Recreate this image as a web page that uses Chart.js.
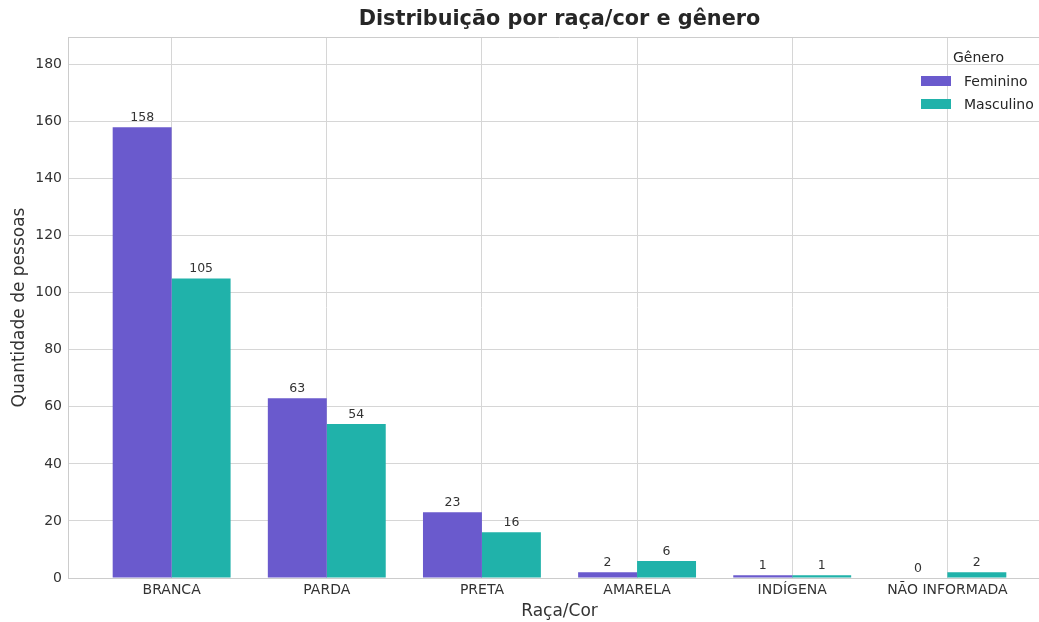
<!DOCTYPE html>
<html>
<head>
<meta charset="utf-8">
<script src="https://cdn.jsdelivr.net/npm/chart.js@4.4.1/dist/chart.umd.min.js"></script>
<style>
  html, body { margin: 0; padding: 0; background: #fff; overflow: hidden; }
  #wrap { position: relative; width: 1051px; height: 622px; }
  #legend { position: absolute; left: 921px; top: 47px; font-family: "DejaVu Sans", sans-serif; font-size: 14px; color: #262626; }
  #legend .ttl { margin-left: 32px; height: 22px; line-height: 20px; }
  #legend .row { display: flex; align-items: center; height: 23px; }
  #legend .sw { width: 30px; height: 10px; margin-right: 13px; }
</style>
</head>
<body>
<div id="wrap">
  <canvas id="chart" width="1051" height="622"></canvas>
  <div id="legend"></div>
</div>
<script>
const categories = ['BRANCA', 'PARDA', 'PRETA', 'AMARELA', 'INDÍGENA', 'NÃO INFORMADA'];
const feminino = [158, 63, 23, 2, 1, 0];
const masculino = [105, 54, 16, 6, 1, 2];
const yTicks = [0, 20, 40, 60, 80, 100, 120, 140, 160, 180];
const seriesNames = ['Feminino', 'Masculino'];
const seriesColors = ['#6A5ACD', '#20B2AA'];
const chartTitle = 'Distribuição por raça/cor e gênero';

const font = 'DejaVu Sans';
const toPoints = arr => arr.map((v, i) => ({ x: i, y: v }));

// top spine + title centred over the plot area (like matplotlib)
const frame = {
    id: 'frame',
    beforeDatasetsDraw(chart) {
        const a = chart.chartArea, ctx = chart.ctx;
        ctx.save();
        ctx.strokeStyle = '#cccccc';
        ctx.lineWidth = 1;
        ctx.beginPath();
        ctx.moveTo(a.left, a.top + 0.5);
        ctx.lineTo(a.right, a.top + 0.5);
        ctx.stroke();
        ctx.restore();
    },
    afterDraw(chart) {
        const a = chart.chartArea, ctx = chart.ctx;
        ctx.save();
        ctx.font = 'bold 20.8px "' + font + '"';
        ctx.fillStyle = '#262626';
        ctx.textAlign = 'center';
        ctx.textBaseline = 'middle';
        ctx.fillText(chartTitle, (a.left + a.right) / 2, a.top - 17);
        ctx.restore();
    }
};

const valueLabels = {
    id: 'valueLabels',
    afterDatasetsDraw(chart) {
        const ctx = chart.ctx;
        ctx.save();
        ctx.font = '12.5px "' + font + '"';
        ctx.fillStyle = '#333333';
        ctx.textAlign = 'center';
        ctx.textBaseline = 'bottom';
        chart.data.datasets.forEach((ds, di) => {
            chart.getDatasetMeta(di).data.forEach((bar, i) => {
                ctx.fillText(ds.data[i].y, bar.x, bar.y - 3);
            });
        });
        ctx.restore();
    }
};

const ctx = document.querySelector('#chart').getContext('2d');
let chart = new Chart(ctx, {
    type: 'bar',
    data: {
        datasets: [{
            label: seriesNames[0],
            data: toPoints(feminino),
            backgroundColor: seriesColors[0]
        }, {
            label: seriesNames[1],
            data: toPoints(masculino),
            backgroundColor: seriesColors[1]
        }]
    },
    options: {
        responsive: false,
        animation: false,
        layout: { padding: { top: 37, left: 0, right: 0, bottom: 0 } },
        datasets: { bar: { categoryPercentage: 0.76, barPercentage: 1.0 } },
        plugins: {
            legend: { display: false },
            tooltip: { enabled: false },
            title: { display: false }
        },
        scales: {
            x: {
                type: 'linear',
                offset: false,
                min: -0.668,
                max: 5.668,
                afterBuildTicks: s => { s.ticks = categories.map((c, i) => ({ value: i })); },
                afterFit: s => { s.height = 44; },
                ticks: {
                    callback: v => categories[v],
                    color: '#333333',
                    font: { family: font, size: 14 },
                    padding: 4,
                    maxRotation: 0,
                    autoSkip: false
                },
                grid: { color: '#d6d6d6', drawTicks: false, offset: false },
                border: { color: '#cccccc' },
                title: {
                    display: true,
                    text: 'Raça/Cor',
                    color: '#333333',
                    font: { family: font, size: 17 },
                    padding: { top: 0, bottom: 0 }
                }
            },
            y: {
                min: 0,
                max: 189.6,
                afterBuildTicks: s => { s.ticks = yTicks.map(v => ({ value: v })); },
                afterFit: s => { s.width = 68; },
                ticks: {
                    color: '#333333',
                    font: { family: font, size: 14 },
                    padding: 6
                },
                grid: { color: '#d6d6d6', drawTicks: false },
                border: { color: '#cccccc' },
                title: {
                    display: true,
                    text: 'Quantidade de pessoas',
                    color: '#333333',
                    font: { family: font, size: 17 },
                    padding: { top: 9, bottom: 0 }
                }
            }
        }
    },
    plugins: [frame, valueLabels]
});

// legend, built from the series
let html = '<div class="ttl">Gênero</div>';
seriesNames.forEach((n, i) => {
    html += `<div class="row"><span class="sw" style="background:${seriesColors[i]}"></span>${n}</div>`;
});
document.querySelector('#legend').innerHTML = html;
</script>
</body>
</html>
